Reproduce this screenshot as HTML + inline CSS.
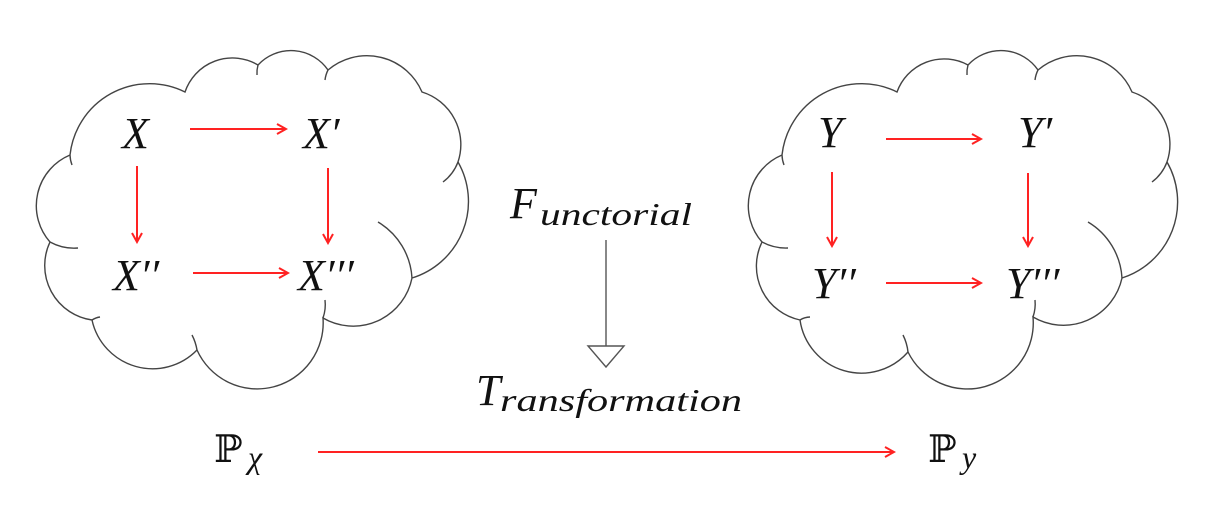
<!DOCTYPE html>
<html><head><meta charset="utf-8"><style>
html,body{margin:0;padding:0;background:#fff;}
svg{display:block;}
text{font-family:"Liberation Serif",serif;font-style:italic;fill:#111;}
</style></head><body>
<svg width="1230" height="520" viewBox="0 0 1230 520" xmlns="http://www.w3.org/2000/svg">
<defs>
<marker id="ah" markerWidth="12" markerHeight="12" refX="10" refY="6" orient="auto" markerUnits="userSpaceOnUse">
<path d="M1,1 L10,6 L1,11" fill="none" stroke="#f22" stroke-width="2"/>
</marker>
</defs>
<g fill="none" stroke="#444" stroke-width="1.4">
<path d="M70,155 A80,80 0 0 1 185,92 A50,50 0 0 1 258,65 A45,45 0 0 1 328,70 A60,60 0 0 1 422,92 A55,55 0 0 1 458,162 A80,80 0 0 1 412,278 A60,60 0 0 1 323,318 A66,66 0 0 1 197,350 A62,62 0 0 1 92,320 A55,55 0 0 1 50,242 A55,55 0 0 1 70,155"/>
<path d="M458,162 A45,45 0 0 1 443,182"/>
<path d="M378,222 A70,70 0 0 1 412,278"/>
<path d="M50,242 A50,50 0 0 0 78,248"/>
<path d="M92,320 A20,20 0 0 1 100,317"/>
<path d="M197,350 A50,50 0 0 0 192,335"/>
<path d="M323,318 A40,40 0 0 0 325,300"/>
<path d="M258,65 A30,30 0 0 0 257,75"/>
<path d="M328,70 A30,30 0 0 0 325,80"/>
<path d="M70,155 A30,30 0 0 0 72,165"/>
<path d="M782,155 A80,80 0 0 1 897,92 A50,50 0 0 1 968,65 A45,45 0 0 1 1038,70 A60,60 0 0 1 1132,92 A55,55 0 0 1 1167,162 A80,80 0 0 1 1122,278 A60,60 0 0 1 1033,317 A66,66 0 0 1 908,352 A62,62 0 0 1 800,320 A55,55 0 0 1 762,242 A55,55 0 0 1 782,155"/>
<path d="M1167,162 A45,45 0 0 1 1152,182"/>
<path d="M1088,222 A70,70 0 0 1 1122,278"/>
<path d="M762,242 A50,50 0 0 0 788,248"/>
<path d="M800,320 A20,20 0 0 1 810,317"/>
<path d="M908,352 A50,50 0 0 0 903,335"/>
<path d="M1033,317 A40,40 0 0 0 1035,300"/>
<path d="M968,65 A30,30 0 0 0 967,75"/>
<path d="M1038,70 A30,30 0 0 0 1035,80"/>
<path d="M782,155 A30,30 0 0 0 784,165"/>
<line x1="606" y1="240" x2="606" y2="346" stroke="#555"/>
<path d="M588,346 L624,346 L606,367 Z" fill="#fff" stroke="#555"/>
</g>
<g stroke="#f22" stroke-width="2" fill="none" marker-end="url(#ah)">
<line x1="190" y1="129" x2="286" y2="129"/>
<line x1="137" y1="166" x2="137" y2="242"/>
<line x1="328" y1="168" x2="328" y2="243"/>
<line x1="193" y1="273" x2="288" y2="273"/>
<line x1="886" y1="139" x2="981" y2="139"/>
<line x1="832" y1="172" x2="832" y2="246"/>
<line x1="1028" y1="173" x2="1028" y2="246"/>
<line x1="886" y1="283" x2="981" y2="283"/>
<line x1="318" y1="452" x2="894" y2="452"/>
</g>
<g font-size="44">
<text x="122" y="148">X</text>
<text x="303" y="148">X′</text>
<text x="113" y="290">X′′</text>
<text x="298" y="290">X′′′</text>
<text x="818" y="147">Y</text>
<text x="1018" y="147">Y′</text>
<text x="812" y="298">Y′′</text>
<text x="1006" y="298">Y′′′</text>
<text x="510" y="218">F</text>
<text x="540" y="225" font-size="32" textLength="152" lengthAdjust="spacingAndGlyphs">unctorial</text>
<text x="476" y="405">T</text>
<text x="500" y="411" font-size="32" textLength="242" lengthAdjust="spacingAndGlyphs">ransformation</text>
</g>
<g font-size="38">
<text x="214" y="462" style="font-style:normal;font-family:'DejaVu Serif',serif">ℙ</text>
<text x="248" y="468" font-size="32">χ</text>
<text x="928" y="462" style="font-style:normal;font-family:'DejaVu Serif',serif">ℙ</text>
<text x="962" y="468" font-size="32">y</text>
</g>
</svg>
</body></html>
